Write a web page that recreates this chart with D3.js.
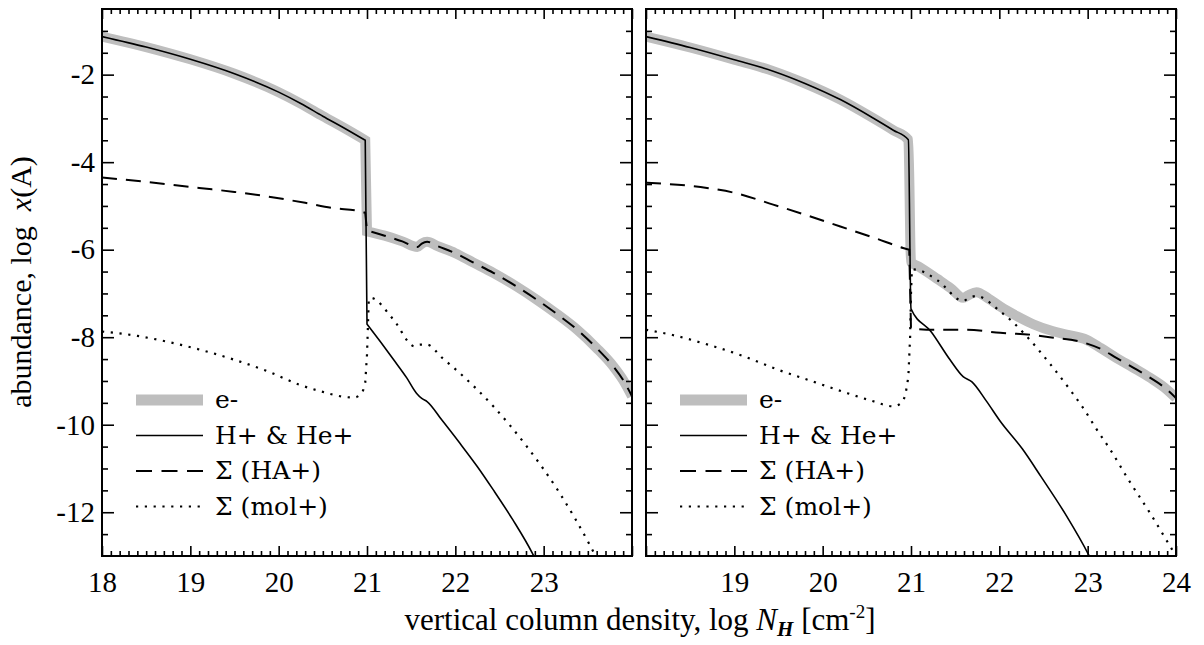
<!DOCTYPE html>
<html>
<head>
<meta charset="utf-8">
<script src="https://cdn.jsdelivr.net/npm/d3@7"></script>
<style>
  body { margin: 0; background: #fff; }
  svg { display: block; }
  text { fill: #000; }
</style>
</head>
<body>
<svg id="chart" width="1204" height="645"></svg>
<script>
// abundance of charged species vs vertical column density, two models side by side
// points are [log N_H, log x(A)]

const xLabelsLeft  = [18, 19, 20, 21, 22, 23];
const xLabelsRight = [19, 20, 21, 22, 23, 24];
const yLabels = [-2, -4, -6, -8, -10, -12];
const legendLabels = ["e-", "H+ & He+", "Σ (HA+)", "Σ (mol+)"];

// ── left panel ──
const leftElectrons = [
    [18.0, -1.13], [18.5, -1.37], [19.0, -1.65], [19.5, -1.98], [20.0, -2.40], [20.25, -2.66],
    [20.5, -2.95], [20.75, -3.23], [20.98, -3.50], [21.0, -5.58], [21.2, -5.68], [21.4, -5.81],
    [21.57, -5.94], [21.62, -5.86], [21.68, -5.82], [21.8, -5.92], [22.0, -6.08], [22.2, -6.29],
    [22.43, -6.53], [22.7, -6.85], [22.92, -7.14], [23.15, -7.47], [23.38, -7.83], [23.6, -8.25],
    [23.79, -8.67], [23.9, -8.98], [24.0, -9.35]
];
const leftHIons = [
    [18.0, -1.13], [18.5, -1.37], [19.0, -1.65], [19.5, -1.98], [20.0, -2.40], [20.25, -2.66],
    [20.5, -2.95], [20.75, -3.23], [20.98, -3.50], [21.0, -7.70], [21.15, -8.10], [21.30, -8.51],
    [21.45, -8.93], [21.56, -9.28], [21.62, -9.40], [21.68, -9.47], [21.85, -9.90], [22.05, -10.42],
    [22.25, -10.96], [22.43, -11.49], [22.65, -12.17], [22.87, -12.93], [22.9, -13.05]
];
const leftHAIons = [
    [18.0, -4.35], [18.5, -4.45], [19.1, -4.59], [19.5, -4.68], [19.86, -4.78], [20.3, -4.93],
    [20.62, -5.05], [20.92, -5.12], [20.98, -5.16], [21.0, -5.56], [21.2, -5.68], [21.4, -5.81],
    [21.57, -5.94], [21.62, -5.86], [21.68, -5.82], [21.8, -5.92], [22.0, -6.08], [22.2, -6.29],
    [22.43, -6.53], [22.7, -6.85], [22.92, -7.14], [23.15, -7.47], [23.38, -7.83], [23.6, -8.25],
    [23.79, -8.67], [23.9, -8.98], [24.0, -9.35]
];
const leftMolIons = [
    [18.0, -7.87], [18.4, -7.97], [18.73, -8.10], [19.1, -8.28], [19.49, -8.51], [19.9, -8.80],
    [20.24, -9.09], [20.5, -9.25], [20.73, -9.36], [20.85, -9.38], [20.94, -9.28], [20.98, -9.04],
    [21.0, -8.40], [21.02, -7.14], [21.04, -7.10], [21.30, -7.60], [21.54, -8.21], [21.6, -8.17],
    [21.68, -8.17], [21.85, -8.47], [22.05, -8.82], [22.43, -9.58], [22.81, -10.50], [23.18, -11.56],
    [23.52, -12.74], [23.6, -13.05]
];

// ── right panel ──
const rightElectrons = [
    [18.0, -1.13], [18.5, -1.38], [19.0, -1.66], [19.44, -1.92], [19.8, -2.20], [20.2, -2.57],
    [20.57, -2.99], [20.8, -3.27], [20.97, -3.49], [21.0, -6.28], [21.1, -6.40], [21.3, -6.67],
    [21.45, -6.88], [21.59, -7.10], [21.65, -7.04], [21.74, -6.97], [21.88, -7.12], [22.01, -7.30],
    [22.2, -7.52], [22.39, -7.71], [22.6, -7.86], [22.76, -7.94], [22.99, -8.06], [23.15, -8.25],
    [23.33, -8.48], [23.52, -8.70], [23.71, -8.93], [23.87, -9.15], [24.0, -9.39]
];
const rightHIons = [
    [18.0, -1.13], [18.5, -1.38], [19.0, -1.66], [19.44, -1.92], [19.8, -2.20], [20.2, -2.57],
    [20.57, -2.99], [20.8, -3.27], [20.97, -3.49], [21.0, -7.35], [21.23, -7.88], [21.44, -8.51],
    [21.59, -8.90], [21.69, -9.02], [21.85, -9.45], [22.01, -9.92], [22.26, -10.55], [22.47, -11.18],
    [22.75, -12.05], [23.01, -12.97], [23.03, -13.05]
];
const rightHAIons = [
    [18.0, -4.47], [18.69, -4.59], [19.0, -4.70], [19.44, -4.97], [19.8, -5.20], [20.2, -5.47],
    [20.6, -5.74], [20.91, -5.96], [20.98, -6.00], [21.0, -7.80], [21.25, -7.83], [21.63, -7.83],
    [22.01, -7.90], [22.39, -7.95], [22.57, -8.00], [22.95, -8.12], [23.15, -8.27], [23.33, -8.48],
    [23.52, -8.70], [23.71, -8.93], [23.87, -9.15], [24.0, -9.39]
];
const rightMolIons = [
    [18.0, -7.83], [18.3, -7.95], [18.7, -8.17], [19.1, -8.43], [19.49, -8.74], [19.9, -9.02],
    [20.28, -9.28], [20.55, -9.45], [20.8, -9.58], [20.88, -9.52], [20.93, -9.35], [20.97, -8.90],
    [20.99, -8.00], [21.0, -7.00], [21.01, -6.45], [21.07, -6.46], [21.3, -6.70], [21.59, -7.17],
    [21.66, -7.10], [21.74, -7.06], [22.01, -7.41], [22.15, -7.65], [22.31, -7.98], [22.57, -8.60],
    [22.8, -9.20], [22.95, -9.62], [23.1, -10.10], [23.25, -10.55], [23.46, -11.25], [23.7, -12.00],
    [23.94, -12.80], [24.0, -13.00]
];

const STYLES = [
    { color: "#bebebe", width: 10,  dash: null,      legendDash: null },
    { color: "#000",    width: 1.6, dash: null,      legendDash: null },
    { color: "#000",    width: 2,   dash: "15,9",    legendDash: "16,9.5" },
    { color: "#000",    width: 2.2, dash: "2.2,6.6", legendDash: "2.2,6.6" }
];
// draw order: grey first, then dotted, dashed, solid
const DRAW_ORDER = [0, 3, 2, 1];

const svg = d3.select("#chart");
const plotTop = 9, plotBottom = 556, plotW = 530;
const FONT = "'Liberation Serif', 'DejaVu Serif', serif";
const FONT_LEGEND = "'DejaVu Serif', 'Liberation Serif', serif";

const y = d3.scaleLinear().domain([-13, -0.5]).range([plotBottom, plotTop]);

const xMinor = d3.range(181, 240).filter(i => i % 10).map(i => i / 10);
const xMajor = d3.range(18, 25);
const yMajor = d3.range(-12, -1, 2);
const yMinor = d3.range(-25, -1).filter(i => i % 4).map(i => i / 2);

function styleAxis(sel) {
    sel.select(".domain").remove();
    sel.attr("font-family", FONT).attr("font-size", 29);
    sel.selectAll("line").attr("stroke", "#000").attr("stroke-width", 1.6);
    sel.selectAll("text").attr("fill", "#000").style("font-family", FONT);
}

// smooth curve, but the near-vertical jumps at log N = 21 stay straight
function pathWithJumps(line, x, pts) {
    const runs = [[pts[0]]];
    for (let i = 1; i < pts.length; i++) {
        const a = pts[i - 1], b = pts[i];
        if (b[0] - a[0] <= 0.03 && Math.abs(b[1] - a[1]) > 0.3) runs.push([b]);
        else runs[runs.length - 1].push(b);
    }
    return runs.map((r, i) => {
        if (r.length === 1) return `${i ? "L" : "M"}${x(r[0][0])},${y(r[0][1])}`;
        const d = line(r);
        return i ? d.replace(/^M/, "L") : d;
    }).join("");
}

function drawPanel(x0, series, xLabels, withYLabels, id) {
    const x = d3.scaleLinear().domain([18, 24]).range([x0, x0 + plotW]);
    const g = svg.append("g");

    svg.append("clipPath").attr("id", id).append("rect")
        .attr("x", x0).attr("y", plotTop).attr("width", plotW).attr("height", plotBottom - plotTop);

    const line = d3.line().x(d => x(d[0])).y(d => y(d[1])).curve(d3.curveMonotoneX);
    const lines = g.append("g").attr("clip-path", `url(#${id})`);
    DRAW_ORDER.forEach(k => {
        const s = STYLES[k];
        lines.append("path").attr("d", pathWithJumps(line, x, series[k]))
            .attr("fill", "none").attr("stroke", s.color).attr("stroke-width", s.width)
            .attr("stroke-dasharray", s.dash);
    });

    // ticks on all four sides, pointing inward
    const fmtX = d => xLabels.includes(d) ? d : "";
    g.append("g").attr("transform", `translate(0,${plotBottom})`)
        .call(d3.axisBottom(x).tickValues(xMajor).tickSizeInner(-10).tickSizeOuter(0).tickPadding(15).tickFormat(fmtX))
        .call(styleAxis);
    g.append("g").attr("transform", `translate(0,${plotBottom})`)
        .call(d3.axisBottom(x).tickValues(xMinor).tickSize(-5).tickFormat(""))
        .call(styleAxis);
    g.append("g").attr("transform", `translate(0,${plotTop})`)
        .call(d3.axisTop(x).tickValues(xMajor).tickSize(-10).tickFormat(""))
        .call(styleAxis);
    g.append("g").attr("transform", `translate(0,${plotTop})`)
        .call(d3.axisTop(x).tickValues(xMinor).tickSize(-5).tickFormat(""))
        .call(styleAxis);

    g.append("g").attr("transform", `translate(${x0},0)`)
        .call(d3.axisLeft(y).tickValues(yMajor).tickSizeInner(-12).tickSizeOuter(0).tickPadding(7)
            .tickFormat(d => withYLabels && yLabels.includes(d) ? String(d) : ""))
        .call(styleAxis);
    g.append("g").attr("transform", `translate(${x0},0)`)
        .call(d3.axisLeft(y).tickValues(yMinor).tickSize(-6).tickFormat(""))
        .call(styleAxis);
    g.append("g").attr("transform", `translate(${x0 + plotW},0)`)
        .call(d3.axisRight(y).tickValues(yMajor).tickSize(-12).tickFormat(""))
        .call(styleAxis);
    g.append("g").attr("transform", `translate(${x0 + plotW},0)`)
        .call(d3.axisRight(y).tickValues(yMinor).tickSize(-6).tickFormat(""))
        .call(styleAxis);

    g.append("rect").attr("x", x0).attr("y", plotTop).attr("width", plotW).attr("height", plotBottom - plotTop)
        .attr("fill", "none").attr("stroke", "#000").attr("stroke-width", 2);

    // legend, lower left of the plot
    legendLabels.forEach((label, i) => {
        const ly = 400 + i * 35.5;
        const s = STYLES[i];
        g.append("line").attr("x1", x0 + 34).attr("x2", x0 + 101).attr("y1", ly).attr("y2", ly)
            .attr("stroke", s.color).attr("stroke-width", i === 0 ? 11 : s.width)
            .attr("stroke-dasharray", s.legendDash);
        g.append("text").attr("x", x0 + 113).attr("y", ly + 8)
            .style("font-family", FONT_LEGEND).attr("font-size", 25).text(label);
    });
}

drawPanel(102, [leftElectrons, leftHIons, leftHAIons, leftMolIons], xLabelsLeft, true, "clipL");
drawPanel(646, [rightElectrons, rightHIons, rightHAIons, rightMolIons], xLabelsRight, false, "clipR");

// axis titles
const yt = svg.append("text").attr("transform", "translate(31,282) rotate(-90)")
    .attr("text-anchor", "middle").style("font-family", FONT).attr("font-size", 30);
yt.append("tspan").text("abundance, log\u2002");
yt.append("tspan").attr("font-style", "italic").text("x");
yt.append("tspan").text("(A)");

const xt = svg.append("text").attr("x", 640).attr("y", 630)
    .attr("text-anchor", "middle").style("font-family", FONT).attr("font-size", 31);
xt.append("tspan").text("vertical column density, log ");
xt.append("tspan").attr("font-style", "italic").text("N");
xt.append("tspan").attr("font-style", "italic").attr("font-weight", "bold")
    .attr("font-size", 21).attr("dy", 6).text("H");
xt.append("tspan").attr("dy", -6).text(" [cm");
xt.append("tspan").attr("font-size", 19).attr("dy", -12).text("-2");
xt.append("tspan").attr("dy", 12).text("]");
</script>
</body>
</html>
